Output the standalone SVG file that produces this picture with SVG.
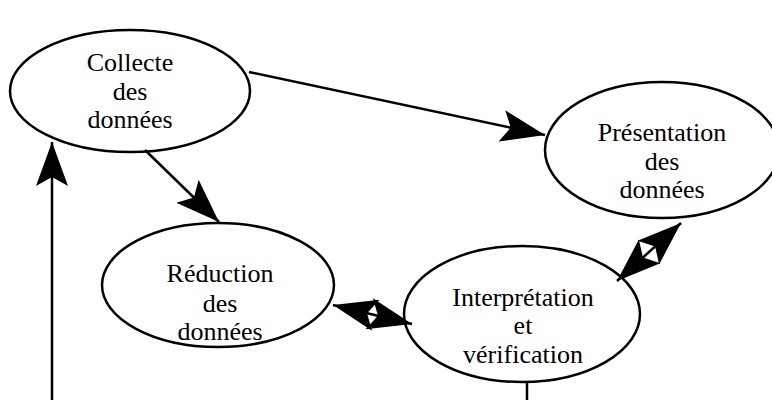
<svg xmlns="http://www.w3.org/2000/svg" width="772" height="400" viewBox="0 0 772 400">
<style>
.node ellipse{fill:#fff;stroke:#000;stroke-width:2.5}
.node text{font-family:"Liberation Serif","Times New Roman",serif;font-size:26px;fill:#000;text-anchor:middle}
.edges line{stroke:#000;stroke-width:2.5}
</style>
<defs>
<marker id="ah" markerUnits="userSpaceOnUse" markerWidth="48" markerHeight="38" viewBox="-47 -19 48 38" refX="0" refY="0" orient="auto-start-reverse">
<path d="M0,0 L-44,-16 L-35,0 L-44,16 Z" fill="#000"/>
</marker>
</defs>
<rect width="772" height="400" fill="#fff"/>
<g id="n-collecte" class="node">
<ellipse cx="130" cy="91" rx="120" ry="61"/>
<text x="130" y="71">Collecte</text>
<text x="130" y="100">des</text>
<text x="130" y="128">données</text>
</g>
<g id="n-presentation" class="node">
<ellipse cx="662" cy="150" rx="117" ry="68"/>
<text x="662" y="141">Présentation</text>
<text x="662" y="170">des</text>
<text x="662" y="198">données</text>
</g>
<g id="n-reduction" class="node">
<ellipse cx="218" cy="285" rx="116" ry="62"/>
<text x="220" y="282">Réduction</text>
<text x="220" y="312">des</text>
<text x="220" y="340">données</text>
</g>
<g id="n-interpretation" class="node">
<ellipse cx="522" cy="314" rx="118" ry="68"/>
<text x="523" y="306">Interprétation</text>
<text x="523" y="334">et</text>
<text x="523" y="363">vérification</text>
</g>
<g id="edges" class="edges">
<line x1="249" y1="72" x2="545" y2="135" marker-end="url(#ah)"/>
<line x1="145" y1="150" x2="219" y2="222" marker-end="url(#ah)"/>
<line x1="52" y1="400" x2="52" y2="142" marker-end="url(#ah)"/>
<line x1="333" y1="305" x2="412" y2="324" marker-start="url(#ah)" marker-end="url(#ah)"/>
<line x1="681" y1="223" x2="617" y2="281" marker-start="url(#ah)" marker-end="url(#ah)"/>
<line x1="527" y1="382" x2="527" y2="400"/>
</g>
</svg>
